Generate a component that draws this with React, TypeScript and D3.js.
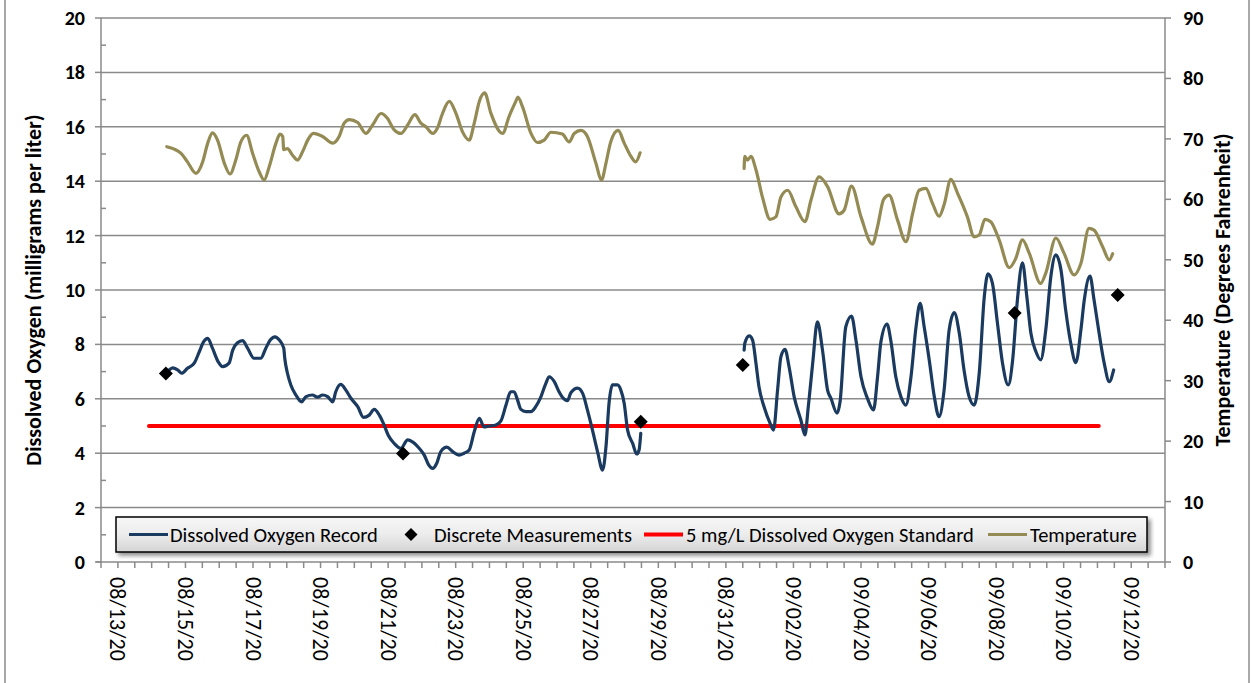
import React from "react";
import * as d3 from "d3";

// ---------- DATA (day offset from 08/13/20 00:00, value) ----------
const startDate = new Date(2020, 7, 13);

const doRecordA: [number, number][] = [
  [1.52, 7.06], [1.62, 7.14], [1.77, 7.06], [1.89, 6.94], [2.06, 7.12], [2.26, 7.31], [2.41, 7.73], [2.54, 8.1],
  [2.66, 8.22], [2.8, 7.86], [2.97, 7.36], [3.1, 7.18], [3.29, 7.31], [3.4, 7.79], [3.54, 8.06], [3.69, 8.14],
  [3.84, 7.86], [4.03, 7.49], [4.23, 7.49], [4.38, 7.86], [4.51, 8.16], [4.65, 8.28], [4.78, 8.16], [4.91, 7.86],
  [4.94, 7.49], [5.02, 6.94], [5.12, 6.51], [5.27, 6.14], [5.44, 5.89], [5.57, 6.08], [5.76, 6.14], [5.91, 6.06],
  [6.06, 6.14], [6.21, 6.08], [6.36, 5.89], [6.45, 6.26], [6.6, 6.53], [6.75, 6.32], [6.9, 6.02], [7.1, 5.71],
  [7.27, 5.32], [7.44, 5.4], [7.59, 5.61], [7.74, 5.4], [7.88, 5.04], [8.0, 4.67], [8.18, 4.36], [8.38, 4.18],
  [8.58, 4.49], [8.72, 4.42], [8.92, 4.18], [9.07, 3.93], [9.2, 3.57], [9.32, 3.44], [9.44, 3.63], [9.56, 4.06],
  [9.74, 4.22], [9.91, 4.06], [10.1, 3.93], [10.25, 4.0], [10.4, 4.12], [10.55, 4.79], [10.7, 5.28], [10.84, 4.97],
  [10.99, 5.0], [11.19, 5.04], [11.34, 5.19], [11.49, 5.77], [11.63, 6.26], [11.73, 6.26], [11.83, 5.96], [11.93, 5.61],
  [12.08, 5.53], [12.23, 5.53], [12.37, 5.71], [12.52, 6.06], [12.67, 6.57], [12.77, 6.81], [12.92, 6.63], [13.06, 6.26],
  [13.16, 6.06], [13.31, 5.93], [13.41, 6.22], [13.61, 6.39], [13.76, 6.2], [13.9, 5.59], [14.05, 4.85], [14.2, 4.06],
  [14.35, 3.38], [14.45, 4.24], [14.54, 5.83], [14.64, 6.51], [14.79, 6.51], [14.89, 6.32], [14.99, 5.83], [15.09, 4.85],
  [15.24, 4.36], [15.36, 3.97], [15.43, 4.12], [15.48, 4.73],
];

const doRecordB: [number, number][] = [
  [18.54, 7.79], [18.56, 8.04], [18.69, 8.31], [18.79, 8.16], [18.89, 7.31], [18.98, 6.44], [19.13, 5.71], [19.31, 5.1],
  [19.41, 4.85], [19.53, 6.32], [19.63, 7.55], [19.75, 7.82], [19.87, 7.18], [20.02, 6.08], [20.22, 5.22], [20.34, 4.67],
  [20.44, 5.71], [20.57, 7.31], [20.71, 8.83], [20.86, 7.79], [21.01, 6.32], [21.11, 6.02], [21.29, 5.47], [21.38, 5.89],
  [21.55, 8.65], [21.72, 9.04], [21.85, 8.16], [22.0, 6.81], [22.19, 6.02], [22.37, 5.59], [22.49, 6.81], [22.59, 8.1],
  [22.77, 8.75], [22.88, 8.16], [23.03, 6.81], [23.18, 6.08], [23.33, 5.77], [23.48, 6.81], [23.63, 8.65], [23.75, 9.51],
  [23.87, 8.65], [24.02, 7.43], [24.17, 6.08], [24.31, 5.34], [24.46, 6.32], [24.61, 8.53], [24.76, 9.17], [24.91, 8.41],
  [25.05, 7.06], [25.2, 6.08], [25.35, 5.77], [25.5, 6.94], [25.65, 9.75], [25.76, 10.59], [25.89, 10.25], [26.04, 8.78],
  [26.19, 7.31], [26.36, 6.51], [26.49, 7.43], [26.63, 9.63], [26.78, 11.0], [26.91, 9.75], [27.03, 8.41], [27.18, 7.73],
  [27.32, 7.43], [27.47, 8.53], [27.62, 10.49], [27.77, 11.29], [27.92, 10.74], [28.06, 9.26], [28.21, 8.04], [28.36, 7.33],
  [28.51, 8.53], [28.61, 9.63], [28.78, 10.51], [28.9, 9.63], [29.05, 8.41], [29.2, 7.31], [29.35, 6.63], [29.48, 7.06],
];

const discreteMeasurements: [number, number][] = [
  [1.42, 6.93], [8.44, 3.99], [15.48, 5.16], [18.5, 7.24], [26.55, 9.15], [29.6, 9.82],
];

const standardDays: [number, number] = [0.92, 29.04];
const standardValue = 5;

const temperatureA: [number, number][] = [
  [1.45, 68.7], [1.67, 68.3], [1.87, 67.6], [2.06, 66.2], [2.31, 64.3], [2.51, 66.2], [2.66, 69.3], [2.8, 71.0],
  [2.95, 69.8], [3.15, 66.0], [3.32, 64.2], [3.49, 66.5], [3.64, 69.5], [3.81, 70.6], [3.99, 67.6], [4.18, 64.6],
  [4.33, 63.2], [4.48, 65.4], [4.68, 69.3], [4.8, 70.8], [4.88, 70.4], [4.91, 68.2], [5.02, 68.4], [5.17, 67.3],
  [5.32, 66.5], [5.47, 67.9], [5.62, 69.8], [5.79, 70.9], [6.06, 70.4], [6.36, 69.3], [6.55, 70.4], [6.7, 72.6],
  [6.85, 73.2], [7.1, 72.7], [7.34, 70.9], [7.54, 72.3], [7.79, 74.2], [7.98, 73.4], [8.18, 71.5], [8.38, 70.9],
  [8.58, 72.3], [8.79, 74.0], [8.97, 72.6], [9.12, 72.0], [9.32, 70.9], [9.46, 71.8], [9.61, 74.2], [9.81, 76.2],
  [10.01, 74.2], [10.2, 71.2], [10.4, 69.8], [10.55, 72.6], [10.7, 76.2], [10.86, 77.6], [11.04, 74.3], [11.39, 70.9],
  [11.58, 73.7], [11.78, 76.2], [11.84, 76.9], [11.98, 75.3], [12.23, 70.9], [12.42, 69.4], [12.62, 69.8], [12.82, 71.1],
  [13.16, 70.8], [13.36, 69.5], [13.51, 70.9], [13.71, 71.4], [13.9, 70.4], [14.15, 66.0], [14.32, 63.2], [14.45, 66.0],
  [14.59, 69.5], [14.81, 71.4], [14.99, 69.3], [15.19, 67.1], [15.33, 66.2], [15.46, 67.7],
];

const temperatureB: [number, number][] = [
  [18.54, 65.1], [18.56, 67.1], [18.64, 66.5], [18.74, 67.1], [18.89, 64.9], [19.09, 60.2], [19.31, 56.7], [19.48, 57.1],
  [19.63, 60.4], [19.83, 61.5], [20.07, 58.8], [20.34, 56.3], [20.52, 59.9], [20.76, 63.7], [21.01, 62.1], [21.35, 57.6],
  [21.5, 58.2], [21.72, 62.2], [22.0, 57.1], [22.34, 52.6], [22.49, 55.5], [22.67, 60.0], [22.83, 60.7], [23.08, 56.6],
  [23.33, 53.0], [23.53, 57.7], [23.72, 61.5], [23.92, 61.8], [24.12, 59.3], [24.31, 57.2], [24.46, 59.1], [24.66, 63.3],
  [24.86, 61.0], [25.15, 57.1], [25.35, 53.8], [25.5, 54.1], [25.67, 56.7], [25.84, 56.3], [26.09, 53.3], [26.39, 48.7],
  [26.58, 50.2], [26.78, 53.3], [26.98, 51.1], [27.32, 46.1], [27.47, 47.8], [27.77, 53.6], [28.01, 51.1], [28.31, 47.5],
  [28.51, 49.4], [28.75, 55.2], [28.9, 54.9], [29.15, 52.2], [29.35, 50.0], [29.45, 51.0],
];

const leftTicks = [0, 2, 4, 6, 8, 10, 12, 14, 16, 18, 20];
const rightTicks = [0, 10, 20, 30, 40, 50, 60, 70, 80, 90];

const leftTitle = "Dissolved Oxygen (milligrams per liter)";
const rightTitle = "Temperature (Degrees Fahrenheit)";
const legendLabels = [
  "Dissolved Oxygen Record",
  "Discrete Measurements",
  "5 mg/L Dissolved Oxygen Standard",
  "Temperature",
];

// ---------- STYLE ----------
const FONT = "Carlito, Lato, 'Open Sans', sans-serif";
const C_DO = "#1b3a60";
const C_TEMP = "#948a54";
const C_STD = "#ff0000";
const C_GRID = "#8a8a8a";

const W = 1252;
const H = 683;
const plot = { left: 101, right: 1165, top: 18, bottom: 562 };

const dayToDate = (d: number) => new Date(startDate.getTime() + d * 86400000);

export default function App() {
  const x = d3
    .scaleTime()
    .domain([new Date(2020, 7, 12, 12), new Date(2020, 8, 13)])
    .range([plot.left, plot.right]);
  const yL = d3.scaleLinear().domain([0, 20]).range([plot.bottom, plot.top]);
  const yR = d3.scaleLinear().domain([0, 90]).range([plot.bottom, plot.top]);

  const lineL = d3
    .line<[number, number]>()
    .x((d) => x(dayToDate(d[0])))
    .y((d) => yL(d[1]))
    .curve(d3.curveMonotoneX);
  const lineR = d3
    .line<[number, number]>()
    .x((d) => x(dayToDate(d[0])))
    .y((d) => yR(d[1]))
    .curve(d3.curveMonotoneX);

  const halfDayTicks = d3.timeHour.every(12)!.range(x.domain()[0], d3.timeHour.offset(x.domain()[1], 1));
  const labelDates = d3.timeDay.range(new Date(2020, 7, 13), new Date(2020, 8, 13), 1).filter((_, i) => i % 2 === 0);
  const fmt = d3.timeFormat("%m/%d/%y");

  const minorLeft = d3.range(1, 20, 2);

  const legendY = 534.5;
  const legend = { x: 116, y: 517, w: 1031, h: 35 };

  const diamond = (cx: number, cy: number, r: number) =>
    `M${cx},${cy - r}L${cx + r},${cy}L${cx},${cy + r}L${cx - r},${cy}Z`;

  return (
    <svg
      width={W}
      height={H}
      style={{ position: "absolute", left: 0, top: 0, background: "#fff" }}
      fontFamily={FONT}
    >
      <defs>
        <linearGradient id="lg" x1="0" y1="0" x2="0" y2="1">
          <stop offset="0" stopColor="#f7f7f7" />
          <stop offset="0.5" stopColor="#ececec" />
          <stop offset="1" stopColor="#d4d4d4" />
        </linearGradient>
        <filter id="shadow" x="-5%" y="-30%" width="110%" height="180%">
          <feGaussianBlur in="SourceAlpha" stdDeviation="2" />
          <feOffset dx="3" dy="3" result="b" />
          <feComponentTransfer>
            <feFuncA type="linear" slope="0.45" />
          </feComponentTransfer>
          <feMerge>
            <feMergeNode />
            <feMergeNode in="SourceGraphic" />
          </feMerge>
        </filter>
      </defs>

      {/* outer frame */}
      <rect x={5} y={-5} width={1244} height={H + 10} fill="none" stroke="#8c8c8c" strokeWidth={1.5} />

      {/* gridlines */}
      {leftTicks.slice(1).map((t) => (
        <line key={"g" + t} x1={plot.left} x2={plot.right} y1={yL(t)} y2={yL(t)} stroke={C_GRID} strokeWidth={1.5} />
      ))}

      {/* left axis */}
      <line x1={plot.left} x2={plot.left} y1={plot.top} y2={plot.bottom} stroke={C_GRID} strokeWidth={1.5} />
      {leftTicks.map((t) => (
        <line key={"lt" + t} x1={plot.left - 6} x2={plot.left} y1={yL(t)} y2={yL(t)} stroke={C_GRID} strokeWidth={1.5} />
      ))}
      {minorLeft.map((t) => (
        <line key={"lm" + t} x1={plot.left} x2={plot.left + 5} y1={yL(t)} y2={yL(t)} stroke={C_GRID} strokeWidth={1.5} />
      ))}
      {leftTicks.map((t) => (
        <text key={"ll" + t} x={85} y={yL(t)} textAnchor="end" dominantBaseline="central" fontWeight="bold" fontSize={20}>
          {t}
        </text>
      ))}
      <text
        transform={`translate(33,${(plot.top + plot.bottom) / 2}) rotate(-90)`}
        textAnchor="middle"
        dominantBaseline="central"
        fontWeight="bold"
        fontSize={22}
      >
        {leftTitle}
      </text>

      {/* right axis */}
      <line x1={plot.right} x2={plot.right} y1={plot.top} y2={plot.bottom} stroke={C_GRID} strokeWidth={1.5} />
      {rightTicks.map((t) => (
        <line key={"rt" + t} x1={plot.right} x2={plot.right + 6} y1={yR(t)} y2={yR(t)} stroke={C_GRID} strokeWidth={1.5} />
      ))}
      {rightTicks.map((t) => (
        <text key={"rl" + t} x={1183} y={yR(t)} textAnchor="start" dominantBaseline="central" fontWeight="bold" fontSize={20}>
          {t}
        </text>
      ))}
      <text
        transform={`translate(1222,${(plot.top + plot.bottom) / 2}) rotate(-90)`}
        textAnchor="middle"
        dominantBaseline="central"
        fontWeight="bold"
        fontSize={22}
      >
        {rightTitle}
      </text>

      {/* x axis */}
      <line x1={plot.left - 5} x2={plot.right} y1={plot.bottom} y2={plot.bottom} stroke={C_GRID} strokeWidth={1.5} />
      {halfDayTicks.map((d, i) => (
        <line key={"xt" + i} x1={x(d)} x2={x(d)} y1={plot.bottom} y2={plot.bottom + 6} stroke={C_GRID} strokeWidth={1.5} />
      ))}
      {labelDates.map((d, i) => (
        <text
          key={"xl" + i}
          transform={`translate(${x(d)},577) rotate(90)`}
          textAnchor="start"
          dominantBaseline="central"
          fontSize={22}
        >
          {fmt(d)}
        </text>
      ))}

      {/* series */}
      <line
        x1={x(dayToDate(standardDays[0]))}
        x2={x(dayToDate(standardDays[1]))}
        y1={yL(standardValue)}
        y2={yL(standardValue)}
        stroke={C_STD}
        strokeWidth={4}
        strokeLinecap="round"
      />
      <path d={lineR(temperatureA) || ""} fill="none" stroke={C_TEMP} strokeWidth={3.2} strokeLinejoin="round" strokeLinecap="round" />
      <path d={lineR(temperatureB) || ""} fill="none" stroke={C_TEMP} strokeWidth={3.2} strokeLinejoin="round" strokeLinecap="round" />
      <path d={lineL(doRecordA) || ""} fill="none" stroke={C_DO} strokeWidth={3.2} strokeLinejoin="round" strokeLinecap="round" />
      <path d={lineL(doRecordB) || ""} fill="none" stroke={C_DO} strokeWidth={3.2} strokeLinejoin="round" strokeLinecap="round" />
      {discreteMeasurements.map((d, i) => (
        <path key={"dm" + i} d={diamond(x(dayToDate(d[0])), yL(d[1]), 7)} fill="#000" />
      ))}

      {/* legend */}
      <rect
        x={legend.x}
        y={legend.y}
        width={legend.w}
        height={legend.h}
        fill="url(#lg)"
        stroke="#000"
        strokeWidth={1.5}
        filter="url(#shadow)"
      />
      <line x1={129} x2={168} y1={legendY} y2={legendY} stroke={C_DO} strokeWidth={3} />
      <text x={170} y={legendY} dominantBaseline="central" fontSize={20.5}>{legendLabels[0]}</text>
      <path d={diamond(411, legendY, 6.5)} fill="#000" />
      <text x={434} y={legendY} dominantBaseline="central" fontSize={20.5}>{legendLabels[1]}</text>
      <line x1={644} x2={683} y1={legendY} y2={legendY} stroke={C_STD} strokeWidth={4} />
      <text x={686} y={legendY} dominantBaseline="central" fontSize={20.5}>{legendLabels[2]}</text>
      <line x1={988} x2={1027} y1={legendY} y2={legendY} stroke={C_TEMP} strokeWidth={3} />
      <text x={1030} y={legendY} dominantBaseline="central" fontSize={20.5}>{legendLabels[3]}</text>
    </svg>
  );
}
